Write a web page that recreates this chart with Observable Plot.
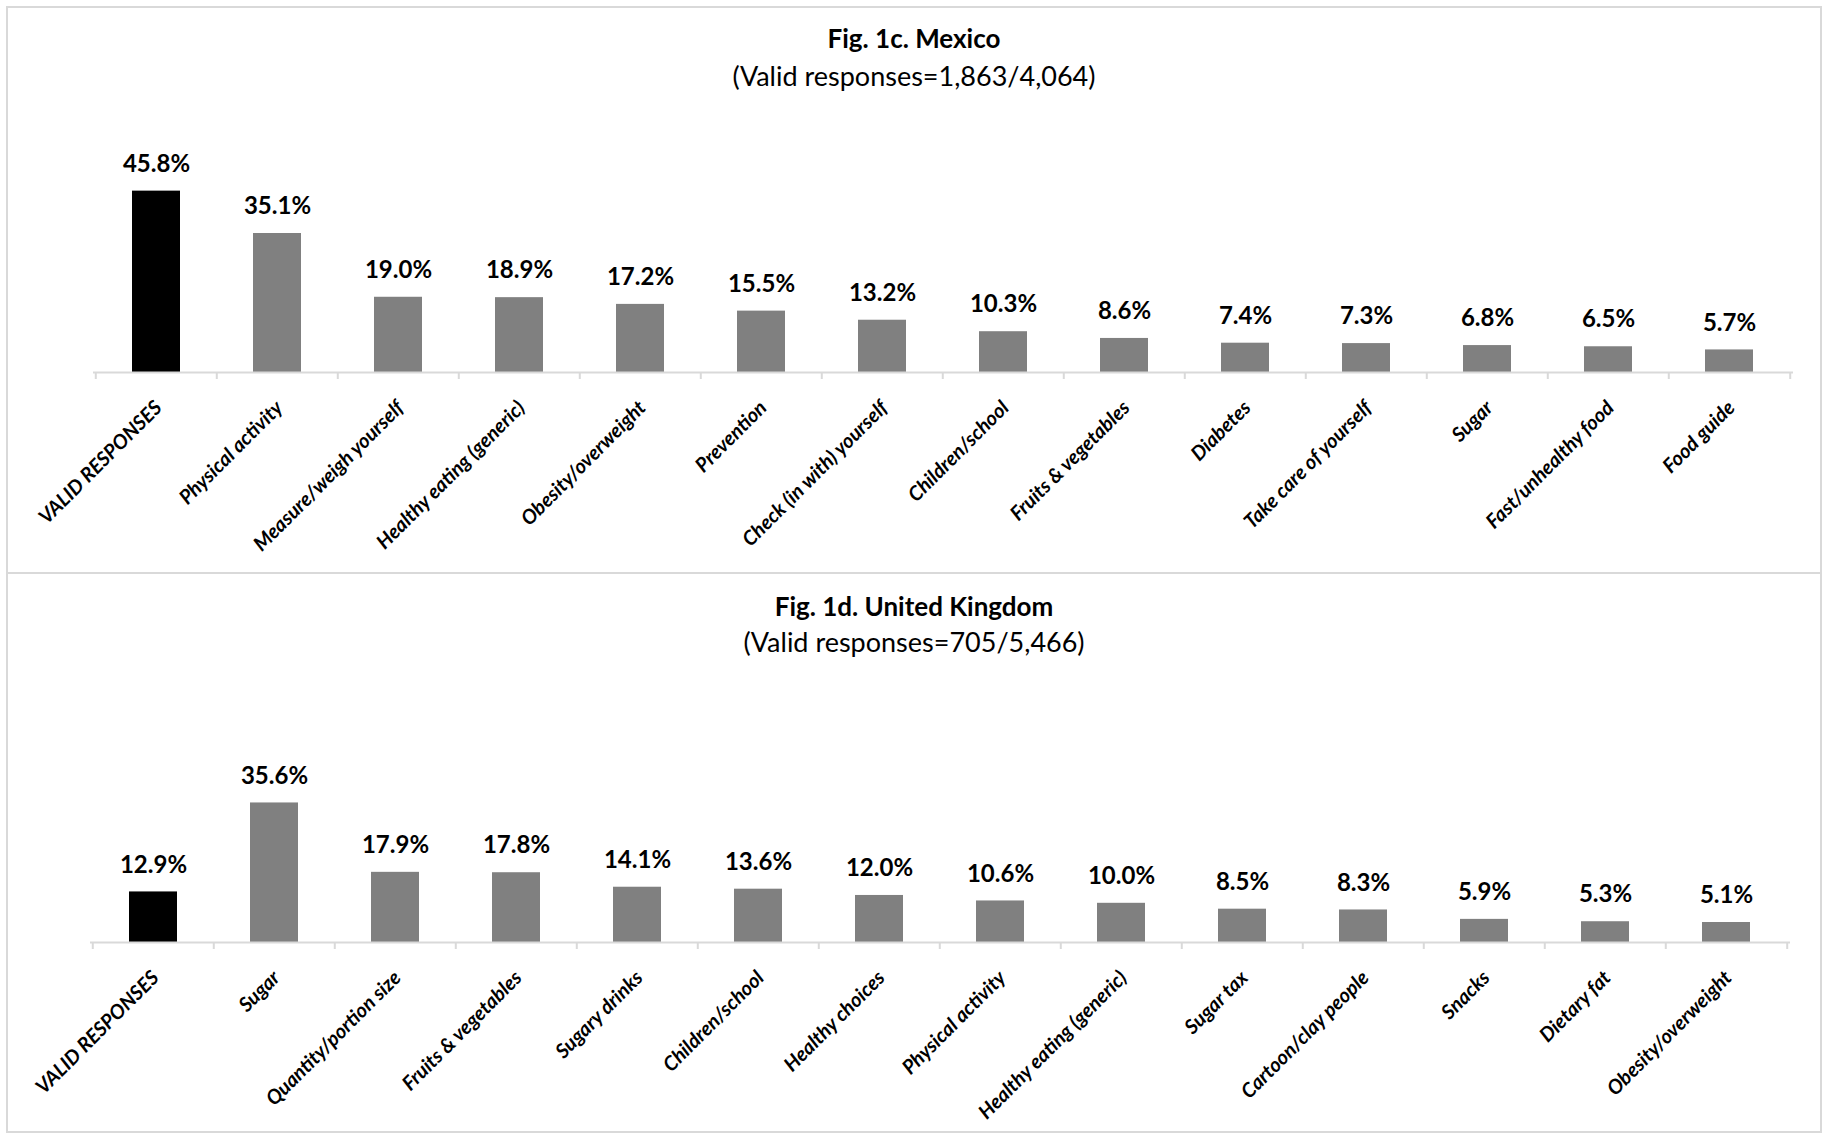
<!DOCTYPE html>
<html>
<head>
<meta charset="utf-8">
<script src="https://cdn.jsdelivr.net/npm/d3@7"></script>
<script src="https://cdn.jsdelivr.net/npm/@observablehq/plot@0.6"></script>
<style>
  html, body { margin: 0; padding: 0; background: #fff; }
  body { width: 1828px; height: 1137px; position: relative; overflow: hidden; font-family: Lato, "Open Sans", sans-serif; }
  .panel { position: absolute; box-sizing: border-box; border: 2px solid #d9d9d9; }
  .title { position: absolute; left: 0; width: 1828px; text-align: center; font-weight: bold; font-size: 26px; line-height: 30px; color: #000; }
  .sub { position: absolute; left: 0; width: 1828px; text-align: center; font-size: 27px; line-height: 30px; color: #000; }
  .chart { position: absolute; left: 0; }
</style>
</head>
<body>
<div class="panel" style="left:6px; top:6px; width:1816px; height:568px;"></div>
<div class="panel" style="left:6px; top:572px; width:1816px; height:561px;"></div>
<div class="title" style="top:23px;">Fig. 1c. Mexico</div>
<div class="sub" style="top:61px;">(Valid responses=1,863/4,064)</div>
<div class="title" style="top:591px;">Fig. 1d. United Kingdom</div>
<div class="sub" style="top:627px;">(Valid responses=705/5,466)</div>
<div id="c1" class="chart" style="top:106px;"></div>
<div id="c2" class="chart" style="top:680px;"></div>
<script>
// Fig. 1c Mexico
const mxCategories = ["VALID RESPONSES", "Physical activity", "Measure/weigh yourself", "Healthy eating (generic)", "Obesity/overweight", "Prevention", "Check (in with) yourself", "Children/school", "Fruits & vegetables", "Diabetes", "Take care of yourself", "Sugar", "Fast/unhealthy food", "Food guide"];
const mxValues = [45.8, 35.1, 19.0, 18.9, 17.2, 15.5, 13.2, 10.3, 8.6, 7.4, 7.3, 6.8, 6.5, 5.7];

// Fig. 1d United Kingdom
const ukCategories = ["VALID RESPONSES", "Sugar", "Quantity/portion size", "Fruits & vegetables", "Sugary drinks", "Children/school", "Healthy choices", "Physical activity", "Healthy eating (generic)", "Sugar tax", "Cartoon/clay people", "Snacks", "Dietary fat", "Obesity/overweight"];
const ukValues = [12.9, 35.6, 17.9, 17.8, 14.1, 13.6, 12.0, 10.6, 10.0, 8.5, 8.3, 5.9, 5.3, 5.1];

const yDomain = [0, 50];

function makeChart(cats, vals, opts) {
  const data = cats.map((c, i) => ({cat: c, value: vals[i], first: i === 0}));
  const W = 1828;
  const bw = (W - opts.ml - opts.mr) / cats.length;
  const tickLen = 7 / ((opts.h - opts.mt - opts.mb) / (yDomain[1] - yDomain[0]));
  const font = "Lato, 'Open Sans', sans-serif";
  return Plot.plot({
    width: W,
    height: opts.h,
    marginLeft: opts.ml,
    marginRight: opts.mr,
    marginTop: opts.mt,
    marginBottom: opts.mb,
    style: {fontFamily: font, background: "transparent", overflow: "visible"},
    x: {domain: cats, paddingInner: 0.6, paddingOuter: 0.3, axis: null},
    y: {domain: yDomain, axis: null},
    marks: [
      Plot.barY(data, {x: "cat", y: "value", fill: d => d.first ? "#000000" : "#808080"}),
      Plot.ruleY([0], {stroke: "#d9d9d9", strokeWidth: 2}),
      Plot.ruleX(cats, {x: d => d, dx: -bw / 2, y1: 0, y2: -tickLen, stroke: "#d9d9d9", strokeWidth: 2}),
      Plot.ruleX(cats.slice(-1), {x: d => d, dx: bw / 2, y1: 0, y2: -tickLen, stroke: "#d9d9d9", strokeWidth: 2}),
      Plot.text(data, {x: "cat", y: "value", text: d => d.value.toFixed(1) + "%", dy: -27, lineAnchor: "middle", fontSize: 24, fontWeight: "bold", fill: "#000"}),
      Plot.axisX({tickSize: 0, tickRotate: -45, tickPadding: 32, dx: 2, fontSize: 20, fontWeight: "bold", fontStyle: "italic", fill: "#000", label: null})
    ]
  });
}

document.getElementById("c1").appendChild(makeChart(mxCategories, mxValues, {h: 460, ml: 93, mr: 35, mt: 68, mb: 194}));
document.getElementById("c2").appendChild(makeChart(ukCategories, ukValues, {h: 450, ml: 90, mr: 38, mt: 66, mb: 188}));
</script>
</body>
</html>
